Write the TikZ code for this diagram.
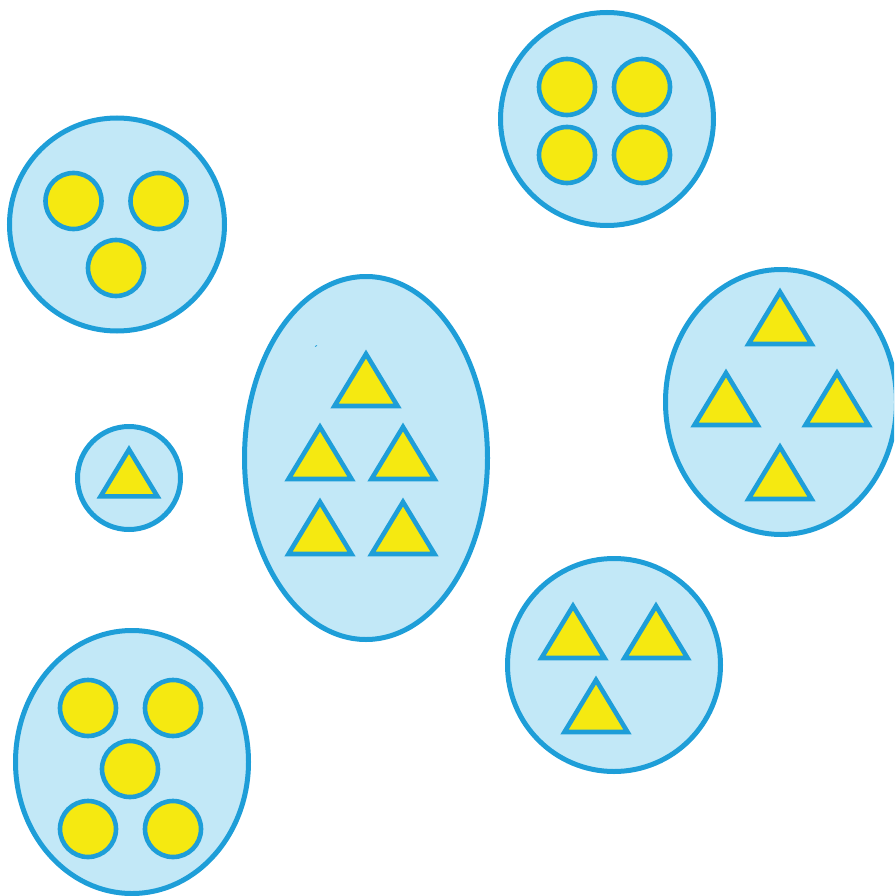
\documentclass[tikz,border=0pt]{standalone}
\definecolor{setfill}{HTML}{C2E8F7}
\definecolor{setline}{HTML}{1E9ED8}
\definecolor{yel}{HTML}{F5E911}
\tikzset{
  setshape/.style={fill=setfill,draw=setline,line width=5pt},
  dot/.style={fill=yel,draw=setline,line width=4.6pt},
  tristyle/.style={fill=yel,draw=setline,line width=4.6pt,line join=miter},
}
\newcommand\tri[3][1]{\draw[tristyle] (#2,#3) -- ++(-31.5*#1,52*#1) -- ++(63*#1,0) -- cycle;}
\newcommand\ball[2]{\draw[dot] (#1,#2) circle (28);}
\begin{document}
\begin{tikzpicture}[x=1pt,y=-1pt]
\useasboundingbox (0,0) rectangle (894,896);
\begin{scope}
\clip (0,0) rectangle (894,896);
% top-left set
\draw[setshape] (117,224.5) ellipse (107.5 and 106.5);
\ball{73.5}{201}\ball{158.5}{201}\ball{116}{268}
% top-right set
\draw[setshape] (607,119) ellipse (106.5 and 106.5);
\ball{567}{87}\ball{642}{87}\ball{567}{155}\ball{642}{155}
% small set
\draw[setshape] (129,478) ellipse (51.5 and 51.5);
\tri[0.9]{129}{449.5}
% central set
\draw[setshape] (366,458) ellipse (121.5 and 181.5);
\tri{366}{354}
\tri{320}{427}\tri{403}{427}
\tri{320}{502}\tri{403}{502}
\draw[setline,line width=0.8pt] (315,346.5) -- (317,345.5);
% right set
\draw[setshape] (781,402) ellipse (115.5 and 132.5);
\tri{780}{292}
\tri{726}{373}\tri{837}{373}
\tri{780}{447}
% bottom-right set
\draw[setshape] (614,665) ellipse (106.5 and 106.5);
\tri{573}{606}\tri{656}{606}
\tri{596}{680}
% bottom-left set
\draw[setshape] (132,762) ellipse (116.5 and 131.5);
\ball{88}{708}\ball{173}{708}\ball{130}{769}\ball{88}{829}\ball{173}{829}
\end{scope}
\end{tikzpicture}
\end{document}
